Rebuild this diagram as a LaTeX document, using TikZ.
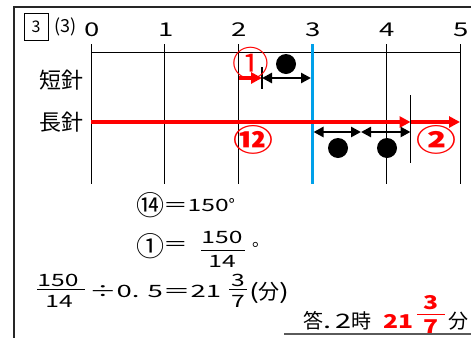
\documentclass[tikz,border=0pt]{standalone}
\usepackage{fontspec}
\usepackage{graphicx}
\setmainfont{Noto Sans CJK JP}
\usetikzlibrary{arrows.meta}
\definecolor{myred}{RGB}{255,0,0}
\definecolor{myblue}{RGB}{0,160,233}
\definecolor{mygrey}{RGB}{90,90,90}
\newcommand\D[1]{\scalebox{1.45}[1]{#1}}
\begin{document}
\begin{tikzpicture}[x=1pt,y=-1pt,
  every node/.style={inner sep=0pt, outer sep=0pt},
  grid/.style={line width=1pt},
  redarr/.style={myred, line width=3.5pt, -{Triangle[length=11pt,width=11pt]}},
  dblarr/.style={black, line width=2.5pt, {Triangle[length=10pt,width=10pt]}-{Triangle[length=10pt,width=10pt]}},
  dotmark/.style={circle, fill=black, minimum size=20pt},
  numlbl/.style={font=\fontsize{19}{19}\selectfont},
  handlbl/.style={font=\fontsize{22}{22}\selectfont},
  redlbl/.style={text=myred, font=\fontsize{21}{21}\selectfont\bfseries},
  calc/.style={font=\fontsize{17}{17}\selectfont},
  ans/.style={font=\fontsize{19}{19}\selectfont},
  fracbar/.style={line width=1pt}
]
\useasboundingbox (0,0) rectangle (471,338);
% frame
\coordinate (fr1) at (471,7);
\coordinate (fr2) at (13.5,7);
\coordinate (fr3) at (13.5,338);
\draw[line width=2pt, black!85] (fr1) -- (fr2) -- (fr3);
\node[draw, line width=0.8pt, minimum width=24pt, minimum height=27pt, font=\fontsize{16}{16}\selectfont] (box) at (36,26.5) {3};
\node[font=\fontsize{18}{18}\selectfont, anchor=west] (sub) at (54,27) {(3)};
% number line
\foreach \i in {0,...,5} {
  \coordinate (t\i) at ({91+73.8*\i},44);
  \coordinate (b\i) at ({91+73.8*\i},184);
  \draw[grid] (t\i) -- (b\i);
  \node[numlbl] (n\i) at ({92+73.8*\i},30) {\D{\i}};
}
\coordinate (h0) at (91,52);
\coordinate (h5) at (460,52);
\draw[grid] (h0) -- (h5);
\coordinate (bt) at (312.4,44);
\coordinate (bb) at (312.4,184);
\draw[myblue, line width=3pt] (bt) -- (bb);
% labels
\node[handlbl] (short) at (61,80) {短針};
\node[handlbl] (long) at (61,122) {長針};
% short hand
\coordinate (s0) at (238.6,78);
\coordinate (s1) at (262,78);
\coordinate (s2) at (311,78);
\coordinate (s1t) at (262,67);
\coordinate (s1b) at (262,89);
\draw[redarr] (s0) -- (s1);
\draw[line width=1.2pt] (s1t) -- (s1b);
\draw[dblarr] (s1) -- (s2);
\node[dotmark] (d1) at (286,64) {};
\node[redlbl] (r1) at (251,63) {\scalebox{1.75}[1.65]{\mdseries ①}};
% long hand
\coordinate (l0) at (91,122);
\coordinate (l1) at (410.5,122);
\coordinate (l2) at (460,122);
\coordinate (lt) at (410.5,95);
\coordinate (lb) at (410.5,163);
\draw[redarr] (l0) -- (l1);
\draw[redarr] (l1) -- (l2);
\draw[line width=1.5pt] (lt) -- (lb);
\coordinate (m0) at (313.5,132);
\coordinate (m1) at (361,132);
\coordinate (m2) at (410.5,132);
\draw[dblarr] (m0) -- (m1);
\draw[dblarr] (m1) -- (m2);
\node[dotmark] (d2) at (338,148) {};
\node[dotmark] (d3) at (387,148) {};
\node[redlbl] (r12) at (253,140) {\scalebox{1.9}[1.45]{⑫}};
\node[redlbl] (r2) at (436,140) {\scalebox{1.9}[1.45]{②}};
% line 1
\node[calc] (c14) at (151,205) {\scalebox{1.65}[1.6]{⑭}};
\node[calc, anchor=west] (e1) at (163,205) {\D{＝150}°};
% line 2
\node[calc] (c1) at (151,246) {\scalebox{1.65}[1.6]{①}};
\node[calc, anchor=west] (e2) at (163,246) {\D{＝}};
\node[calc] (fa1) at (222,237) {\D{150}};
\node[calc] (fa2) at (222,261) {\D{14}};
\coordinate (fab0) at (201,250);
\coordinate (fab1) at (245,250);
\draw[fracbar] (fab0) -- (fab1);
\node[calc, anchor=west] (dot2) at (252,245) {。};
% line 3
\node[calc] (fb1) at (58,280) {\D{150}};
\node[calc] (fb2) at (59,301) {\D{14}};
\coordinate (fbb0) at (37,289.5);
\coordinate (fbb1) at (85,289.5);
\draw[fracbar] (fbb0) -- (fbb1);
\node[calc, anchor=west] (e3) at (89,291) {\scalebox{1.62}[1]{÷0. 5＝21}};
\node[calc] (fc1) at (238,280) {\D{3}};
\node[calc] (fc2) at (238,301) {\D{7}};
\coordinate (fcb0) at (229,289.5);
\coordinate (fcb1) at (247,289.5);
\draw[fracbar] (fcb0) -- (fcb1);
\node[anchor=west, font=\fontsize{21}{21}\selectfont] (e4) at (249,293) {\scalebox{1.4}[1]{(}分\scalebox{1.4}[1]{)}};
% answer
\node[ans, anchor=west] (a1) at (303,321) {\fontsize{20}{20}\selectfont 答\D{.} \D{2}時};
\node[ans, anchor=west, text=myred] (a2) at (383,321) {\scalebox{1.3}[1]{\bfseries 21}};
\node[ans, text=myred] (fd1) at (431,303) {\scalebox{1.3}[1]{\bfseries 3}};
\node[ans, text=myred] (fd2) at (431,327) {\scalebox{1.3}[1]{\bfseries 7}};
\coordinate (fdb0) at (417,314);
\coordinate (fdb1) at (445,314);
\draw[fracbar, myred] (fdb0) -- (fdb1);
\node[ans, anchor=west] (a3) at (448,321) {\fontsize{20}{20}\selectfont 分};
\coordinate (u0) at (284,334);
\coordinate (u1) at (471,334);
\draw[mygrey, line width=2pt] (u0) -- (u1);
\end{tikzpicture}
\end{document}
